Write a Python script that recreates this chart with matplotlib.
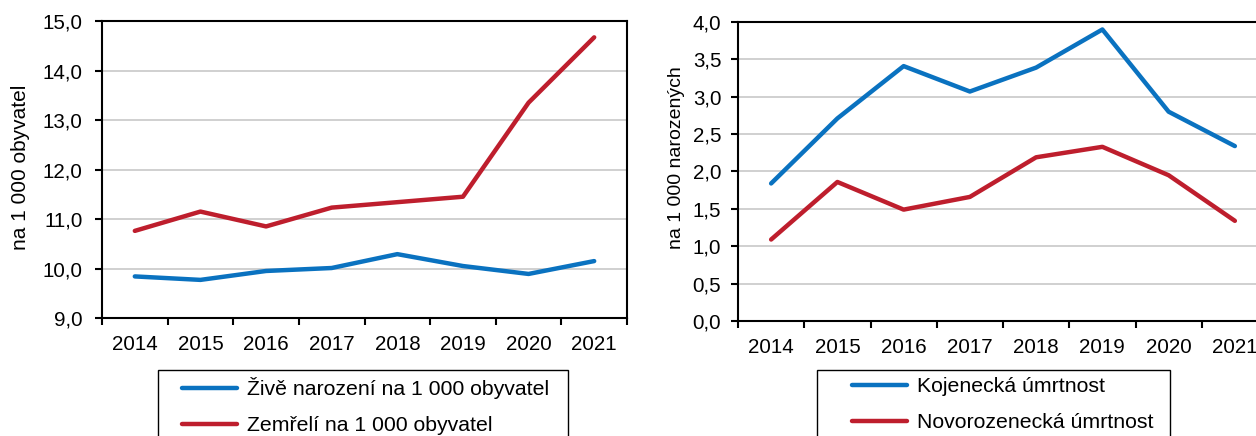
import matplotlib.pyplot as plt
from matplotlib.patches import Rectangle
import numpy as np

plt.rcParams['font.family'] = ['Liberation Sans', 'DejaVu Sans']

years = ["2014", "2015", "2016", "2017", "2018", "2019", "2020", "2021"]

# left panel: per 1 000 inhabitants
live_births = [9.84, 9.77, 9.95, 10.01, 10.29, 10.05, 9.89, 10.15]
deaths = [10.76, 11.15, 10.85, 11.23, 11.34, 11.45, 13.35, 14.67]

# right panel: per 1 000 live births
infant_mort = [1.84, 2.71, 3.41, 3.07, 3.39, 3.90, 2.80, 2.34]
neonatal_mort = [1.09, 1.86, 1.49, 1.66, 2.19, 2.33, 1.95, 1.34]

BLUE = "#0A72C0"
RED = "#BE1E2D"
W, H = 1256, 436
FS = 14.8      # tick labels
FS_LEG = 15.3  # legend text


def fmt(v):
    return f"{v:.1f}".replace(".", ",")


def style_axis(ax, yticks, ylabel, ypad, label_fs):
    x = np.arange(len(years))
    ax.set_xlim(-0.5, len(years) - 0.5)
    ax.set_xticks(np.arange(len(years) + 1) - 0.5)
    ax.set_xticklabels([])
    ax.set_xticks(x, minor=True)
    ax.set_xticklabels(years, minor=True, fontsize=FS)
    ax.tick_params(axis="x", which="major", direction="out", length=5, width=1.5)
    ax.tick_params(axis="x", which="minor", length=0, pad=12)
    ax.set_ylim(yticks[0], yticks[-1])
    ax.set_yticks(yticks)
    ax.set_yticklabels([fmt(v) for v in yticks], fontsize=FS)
    ax.tick_params(axis="y", direction="out", length=5, width=1.5, pad=ypad)
    ax.grid(axis="y", color="#c8c8c8", linewidth=1.2)
    ax.set_axisbelow(True)
    for s in ax.spines.values():
        s.set_linewidth(1.5)
    ax.set_ylabel(ylabel, fontsize=label_fs)
    return x


fig = plt.figure(figsize=(W / 100, H / 100), dpi=100)

ax1 = fig.add_axes([102 / W, 1 - 318 / H, 525 / W, 297 / H])
x = style_axis(ax1, np.arange(9.0, 15.01, 1.0), "na 1 000 obyvatel", 9, 15.0)
ax1.yaxis.set_label_coords(-0.138, 0.507)
ax1.plot(x, live_births, color=BLUE, lw=3.2, solid_capstyle="round",
         label="Živě narození na 1 000 obyvatel")
ax1.plot(x, deaths, color=RED, lw=3.2, solid_capstyle="round",
         label="Zemřelí na 1 000 obyvatel")

ax2 = fig.add_axes([738 / W, 1 - 321 / H, 530 / W, 299 / H])
x = style_axis(ax2, np.arange(0.0, 4.01, 0.5), "na 1 000 narozených", 7, 14.0)
ax2.yaxis.set_label_coords(-0.100, 0.545)
ax2.plot(x, infant_mort, color=BLUE, lw=3.2, solid_capstyle="round",
         label="Kojenecká úmrtnost")
ax2.plot(x, neonatal_mort, color=RED, lw=3.2, solid_capstyle="round",
         label="Novorozenecká úmrtnost")

# legend boxes (cut by the lower edge of the figure)
for ax, x0, x1, inset in [(ax1, 158, 568, 24), (ax2, 817, 1170, 35)]:
    fig.patches.append(Rectangle((x0 / W, -0.05), (x1 - x0) / W, 0.05 + 1 - 370 / H,
                                 transform=fig.transFigure, fill=False,
                                 edgecolor="black", linewidth=1.0))
    leg = fig.legend(*ax.get_legend_handles_labels(),
                     loc="upper left",
                     bbox_to_anchor=((x0 + inset) / W, 1 - 377 / H),
                     bbox_transform=fig.transFigure,
                     fontsize=FS_LEG, frameon=False,
                     handlelength=2.6, handletextpad=0.47,
                     labelspacing=0.8, borderpad=0, borderaxespad=0)
    for ln in leg.get_lines():
        ln.set_linewidth(3.2)

fig.savefig("out.png", dpi=100)
